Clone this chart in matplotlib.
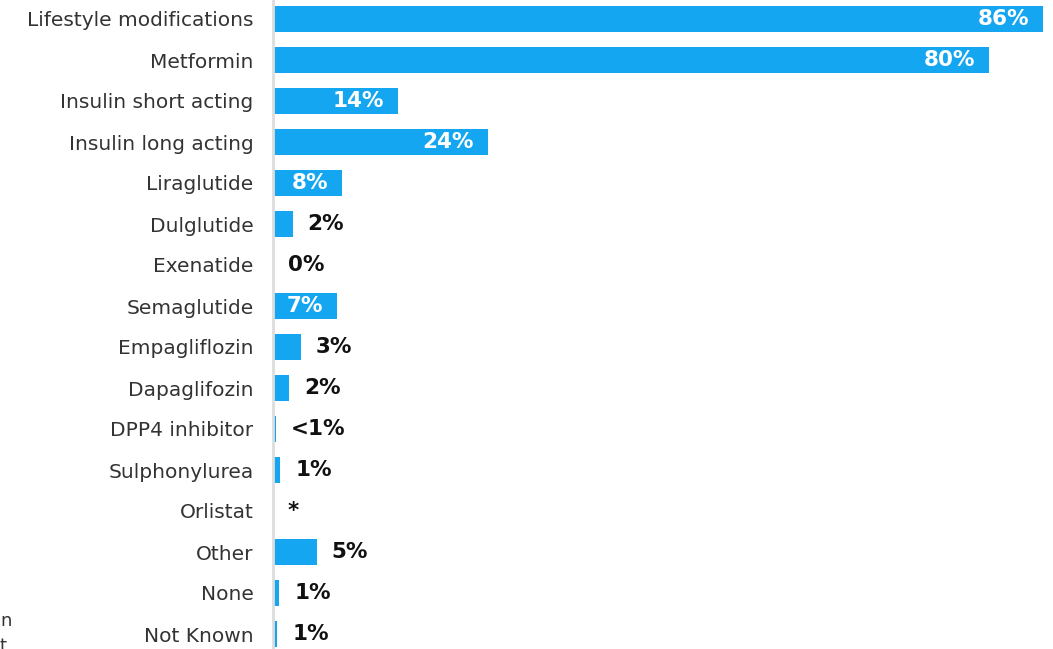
import matplotlib
matplotlib.use("Agg")
import matplotlib.pyplot as plt

categories = ["Lifestyle modifications", "Metformin", "Insulin short acting", "Insulin long acting",
              "Liraglutide", "Dulglutide", "Exenatide", "Semaglutide", "Empagliflozin",
              "Dapaglifozin", "DPP4 inhibitor", "Sulphonylurea", "Orlistat", "Other", "None", "Not Known"]
values = [86, 80, 14, 24, 7.7, 2.2, 0, 7.1, 3.1, 1.8, 0.3, 0.8, 0, 4.9, 0.7, 0.5]
value_labels = ["86%", "80%", "14%", "24%", "8%", "2%", "0%", "7%", "3%", "2%", "<1%", "1%", "*", "5%", "1%", "1%"]

BLUE = "#14a6f0"
W, H = 1053, 649
fig = plt.figure(figsize=(W / 100, H / 100), dpi=100)
left_px, right_px = 273, 1043
row = 41.0
top_px = 19 - row / 2
n = len(categories)
ax_h = n * row
ax = fig.add_axes([left_px / W, (H - top_px - ax_h) / H, (right_px - left_px) / W, ax_h / H])

ys = list(range(n))
ax.barh(ys, values, height=0.61, color=BLUE)
ax.set_xlim(0, 86)
ax.set_ylim(n - 0.5, -0.5)
ax.set_yticks(ys)
ax.set_yticklabels(categories, fontsize=14.5, color="#333333", family="DejaVu Sans")
ax.tick_params(axis="y", length=0, pad=14)
ax.set_xticks([])
for s in ["top", "right", "bottom"]:
    ax.spines[s].set_visible(False)
ax.spines["left"].set_color("#dddddd")
ax.spines["left"].set_linewidth(2)

px_per_unit = (right_px - left_px) / 86.0
for y, v, lab in zip(ys, values, value_labels):
    if v >= 7:
        ax.text(v - 14 / px_per_unit, y, lab, ha="right", va="center", color="white",
                fontsize=15.5, fontweight="bold", family="DejaVu Sans")
    else:
        ax.text(v + 15 / px_per_unit, y, lab, ha="left", va="center", color="#111111",
                fontsize=15.5, fontweight="bold", family="DejaVu Sans", clip_on=False)

fig.text(0.0, (H - 621) / H, "n", fontsize=13, color="#333333", va="center", ha="left")
fig.text(0.0, (H - 646) / H, "t", fontsize=13, color="#333333", va="center", ha="left")

fig.savefig("out.png", dpi=100)
